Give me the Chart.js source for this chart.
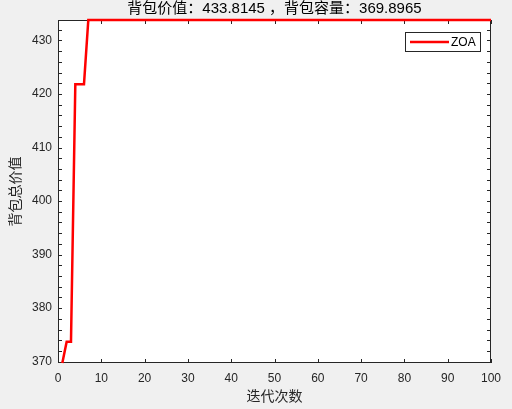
<!DOCTYPE html>
<html><head><meta charset="utf-8">
<script src="https://cdn.jsdelivr.net/npm/chart.js@4.4.0/dist/chart.umd.min.js"></script>
<style>html,body{margin:0;padding:0;background:#f0f0f0;overflow:hidden}canvas{display:block}</style>
</head><body><canvas id="c" width="512" height="409"></canvas>
<script>
const iterations = [1,2,3,4,5,6,7,8,9,10,11,12,13,14,15,16,17,18,19,20,
21,22,23,24,25,26,27,28,29,30,31,32,33,34,35,36,37,38,39,40,
41,42,43,44,45,46,47,48,49,50,51,52,53,54,55,56,57,58,59,60,
61,62,63,64,65,66,67,68,69,70,71,72,73,74,75,76,77,78,79,80,
81,82,83,84,85,86,87,88,89,90,91,92,93,94,95,96,97,98,99,100];
const zoaValues = [369.75,373.7,373.7,421.8,421.8,421.8,433.8145,433.8145,433.8145,433.8145,
433.8145,433.8145,433.8145,433.8145,433.8145,433.8145,433.8145,433.8145,433.8145,433.8145,
433.8145,433.8145,433.8145,433.8145,433.8145,433.8145,433.8145,433.8145,433.8145,433.8145,
433.8145,433.8145,433.8145,433.8145,433.8145,433.8145,433.8145,433.8145,433.8145,433.8145,
433.8145,433.8145,433.8145,433.8145,433.8145,433.8145,433.8145,433.8145,433.8145,433.8145,
433.8145,433.8145,433.8145,433.8145,433.8145,433.8145,433.8145,433.8145,433.8145,433.8145,
433.8145,433.8145,433.8145,433.8145,433.8145,433.8145,433.8145,433.8145,433.8145,433.8145,
433.8145,433.8145,433.8145,433.8145,433.8145,433.8145,433.8145,433.8145,433.8145,433.8145,
433.8145,433.8145,433.8145,433.8145,433.8145,433.8145,433.8145,433.8145,433.8145,433.8145,
433.8145,433.8145,433.8145,433.8145,433.8145,433.8145,433.8145,433.8145,433.8145,433.8145];
const xTicks = [0,10,20,30,40,50,60,70,80,90,100];
const yTicks = [370,380,390,400,410,420,430];
const yMinorTicks = [370,372,374,376,378,380,382,384,386,388,390,392,394,396,398,400,402,404,406,408,410,412,414,416,418,420,422,424,426,428,430,432];
const xRange = [0,100];
const yRange = [369.75,433.8145];
const titleText = '背包价值：433.8145 ，背包容量：369.8965';
const xTitle = '迭代次数';
const yTitle = '背包总价值';
const seriesName = 'ZOA';

const FONT = '"Liberation Sans", Arial, "Noto Sans CJK SC", sans-serif';
const CJK = '"Liberation Sans", "Noto Sans CJK SC", sans-serif';
const AX = '#262626';
const RED = '#ff0000';

const matlabFrame = {
  id: 'matlabFrame',
  beforeDraw(chart) {
    const {ctx, chartArea: a} = chart;
    ctx.save();
    ctx.fillStyle = '#f0f0f0';
    ctx.fillRect(0, 0, chart.width, chart.height);
    ctx.fillStyle = '#ffffff';
    ctx.fillRect(a.left, a.top, a.right - a.left, a.bottom - a.top);
    ctx.restore();
  },
  beforeDatasetsDraw(chart) {
    const {ctx, chartArea: a, scales: {x, y}} = chart;
    ctx.save();
    ctx.strokeStyle = AX;
    ctx.lineWidth = 1;
    ctx.strokeRect(a.left + 0.5, a.top + 0.5, a.right - a.left - 1, a.bottom - a.top - 1);
    const L = 4;
    ctx.beginPath();
    xTicks.forEach(v => {
      const px = Math.round(x.getPixelForValue(v)) + 0.5;
      ctx.moveTo(px, a.bottom); ctx.lineTo(px, a.bottom - L);
      ctx.moveTo(px, a.top); ctx.lineTo(px, a.top + L);
    });
    yMinorTicks.forEach(v => {
      if (v < y.min || v > y.max) return;
      const py = Math.round(y.getPixelForValue(v)) + 0.5;
      ctx.moveTo(a.left, py); ctx.lineTo(a.left + L, py);
      ctx.moveTo(a.right, py); ctx.lineTo(a.right - L, py);
    });
    ctx.stroke();
    ctx.restore();
  },
  afterDraw(chart) {
    const {ctx, chartArea: a} = chart;
    const cx = (a.left + a.right) / 2;
    const cy = (a.top + a.bottom) / 2;
    ctx.save();
    ctx.fillStyle = '#000';
    ctx.textAlign = 'center';
    ctx.textBaseline = 'middle';
    ctx.font = '15px ' + CJK;
    ctx.fillText(titleText, cx, 9);
    ctx.fillStyle = AX;
    ctx.font = '14px ' + CJK;
    ctx.fillText(xTitle, cx, 397);
    ctx.save();
    ctx.translate(16, cy);
    ctx.rotate(-Math.PI / 2);
    ctx.fillText(yTitle, 0, 0);
    ctx.restore();
    // legend
    const ds = chart.data.datasets[0];
    ctx.fillStyle = '#fff';
    ctx.fillRect(405, 32, 75, 20);
    ctx.strokeStyle = AX;
    ctx.lineWidth = 1;
    ctx.strokeRect(405.5, 32.5, 75, 19);
    ctx.strokeStyle = ds.borderColor;
    ctx.lineWidth = ds.borderWidth;
    ctx.beginPath();
    ctx.moveTo(410, 42); ctx.lineTo(449, 42);
    ctx.stroke();
    ctx.fillStyle = '#000';
    ctx.textAlign = 'left';
    ctx.font = '12px ' + FONT;
    ctx.fillText(ds.label, 451, 42.5);
    ctx.restore();
  }
};

new Chart(document.getElementById('c'), {
  type: 'line',
  data: {
    labels: iterations,
    datasets: [{
      label: seriesName,
      data: iterations.map((it, i) => ({x: it, y: zoaValues[i]})),
      borderColor: RED,
      backgroundColor: RED,
      borderWidth: 2.5,
      pointRadius: 0,
      tension: 0,
      fill: false,
      clip: 4
    }]
  },
  options: {
    responsive: false,
    animation: false,
    devicePixelRatio: 1,
    layout: {padding: {top: 20, right: 21, left: 0, bottom: 0}},
    plugins: {legend: {display: false}, title: {display: false}, tooltip: {enabled: false}},
    scales: {
      x: {
        type: 'linear', min: xRange[0], max: xRange[1],
        afterBuildTicks: s => { s.ticks = xTicks.map(v => ({value: v})); },
        afterFit: s => { s.height = 46; },
        grid: {display: false, drawTicks: false},
        border: {display: false},
        ticks: {padding: 8, color: AX, font: {family: FONT, size: 12}, maxRotation: 0, autoSkip: false}
      },
      y: {
        type: 'linear', min: yRange[0], max: yRange[1],
        afterBuildTicks: s => { s.ticks = yTicks.map(v => ({value: v})); },
        afterFit: s => { s.width = 58; },
        grid: {display: false, drawTicks: false},
        border: {display: false},
        ticks: {padding: 6, color: AX, font: {family: FONT, size: 12}, autoSkip: false}
      }
    }
  },
  plugins: [matlabFrame]
});
</script>
</body></html>
